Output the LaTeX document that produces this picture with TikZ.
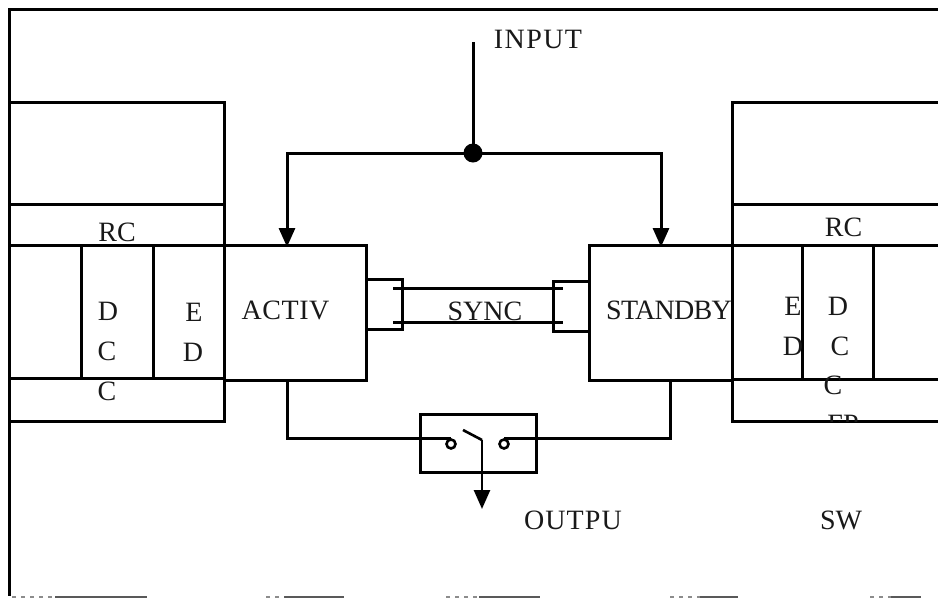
\documentclass[tikz,border=0pt]{standalone}
\usepackage{fontspec}
\setmainfont{Liberation Serif}
\usetikzlibrary{arrows.meta,calc}
\tikzset{
  x=1pt,y=-1pt,
  wire/.style={line width=3pt,line join=miter},
  thinwire/.style={line width=2.6pt},
  cell/.style={draw,line width=3pt,rectangle,anchor=north west,inner sep=0pt,outer sep=0pt},
  lbl/.style={inner sep=0pt,font=\fontsize{28}{28}\selectfont,text=black!90},
  tip/.style={-{Stealth[length=19pt,width=16pt,inset=0pt]}},
  contact/.style={circle,draw,line width=2.6pt,minimum size=9pt,inner sep=0pt},
}
\begin{document}
\begin{tikzpicture}[line cap=butt]
\useasboundingbox (0,0) rectangle (938,598);
% frame
\draw[wire] (938,9) -- (9,9) -- (9,596);
\draw[line width=1.6pt,black!65] (55,597) -- (147,597) (284,597) -- (344,597) (479,597) -- (540,597) (700,597) -- (738,597) (891,597) -- (921,597);
\draw[line width=1.4pt,black!45,dash pattern=on 4pt off 5pt] (12,597) -- (54,597) (266,597) -- (284,597) (446,597) -- (479,597) (670,597) -- (700,597) (870,597) -- (891,597);
% left unit
\node[cell,minimum width=215pt,minimum height=319pt] (lbox) at (9,102) {};
\node[cell,minimum width=215pt,minimum height=133.5pt] (lrow) at (9,245) {};
\coordinate (lrcL) at (9,204); \coordinate (lrcR) at (224,204);
\draw[wire] (lrcL) -- (lrcR);
\node[cell,minimum width=72pt,minimum height=133.5pt] (lcell) at (81,245) {};
% right unit
\coordinate (rT) at (938,102); \coordinate (rTL) at (732,102); \coordinate (rBL) at (732,421.5); \coordinate (rB) at (938,421.5);
\draw[wire] (rT) -- (rTL) -- (rBL) -- (rB);
\coordinate (r1L) at (732,204); \coordinate (r1R) at (938,204);
\coordinate (r2L) at (732,245); \coordinate (r2R) at (938,245);
\coordinate (r3L) at (732,379); \coordinate (r3R) at (938,379);
\draw[wire] (r1L) -- (r1R);
\draw[wire] (r2L) -- (r2R);
\draw[wire] (r3L) -- (r3R);
\coordinate (rv1T) at (802,245); \coordinate (rv1B) at (802,379);
\coordinate (rv2T) at (873,245); \coordinate (rv2B) at (873,379);
\draw[wire] (rv1T) -- (rv1B);
\draw[wire] (rv2T) -- (rv2B);
% main blocks
\node[cell,minimum width=142pt,minimum height=135pt] (act) at (224,245) {};
\node[cell,minimum width=143pt,minimum height=135pt] (stb) at (589,245) {};
\node[cell,minimum width=36pt,minimum height=50pt] (syncL) at (366,279) {};
\node[cell,minimum width=36pt,minimum height=50pt] (syncR) at (553,281) {};
\coordinate (s1a) at (393,288); \coordinate (s1b) at (563,288);
\coordinate (s2a) at (393,322); \coordinate (s2b) at (563,322);
\draw[wire] (s1a) -- (s1b);
\draw[wire] (s2a) -- (s2b);
% input
\coordinate (inTop) at (473,42);
\fill (473,153) circle[radius=9.5pt] coordinate (junc);
\draw[wire] (inTop) -- (junc);
\draw[wire,tip] (junc) -| ($(act.north west)+(63,2)$);
\draw[wire,tip] (junc) -| ($(stb.north west)+(72,2)$);
% switch
\node[cell,minimum width=116pt,minimum height=58pt] (sw) at (420,414) {};
\node[contact] (cL) at (451,444) {};
\node[contact] (cR) at (504,444) {};
\draw[wire] ($(act.south west)+(63,0)$) |- (cL.north);
\draw[wire] ($(stb.south west)+(81,0)$) |- (cR.north);
\coordinate (blade) at (463,430);
\coordinate (bend) at (482,440);
\coordinate (outTip) at (482,509);
\draw[thinwire] (blade) -- (bend);
\draw[thinwire,tip] (bend) -- (outTip);
% labels
\node[lbl] (tInput) at (538,39) {\addfontfeature{LetterSpace=5}INPUT};
\node[lbl] (tRcL) at (117,232) {RC};
\node[lbl] (tD1) at (108,311) {D};
\node[lbl] (tC1) at (107,351.5) {C};
\node[lbl] (tC2) at (107,391) {C};
\node[lbl] (tE1) at (194,312) {E};
\node[lbl] (tD2) at (193,352) {D};
\node[lbl] (tActiv) at (285.5,310) {\addfontfeature{LetterSpace=2}ACTIV};
\node[lbl] (tSync) at (485,311) {SYNC};
\node[lbl] (tStandby) at (669,310) {\addfontfeature{LetterSpace=-2.5}STANDBY};
\node[lbl] (tE2) at (793,306) {E};
\node[lbl] (tD3) at (793,346) {D};
\node[lbl] (tD4) at (838,306) {D};
\node[lbl] (tC3) at (840,346) {C};
\node[lbl] (tC4) at (833,385) {C};
\node[lbl] (tRcR) at (843.5,227) {RC};
\begin{scope}
\clip (780,400) rectangle (900,421);
\node[lbl] (tFp) at (843,424.5) {FP};
\end{scope}
\node[lbl] (tOutpu) at (573,520) {\addfontfeature{LetterSpace=4}OUTPU};
\node[lbl] (tSw) at (841,520) {SW};
\end{tikzpicture}
\end{document}
